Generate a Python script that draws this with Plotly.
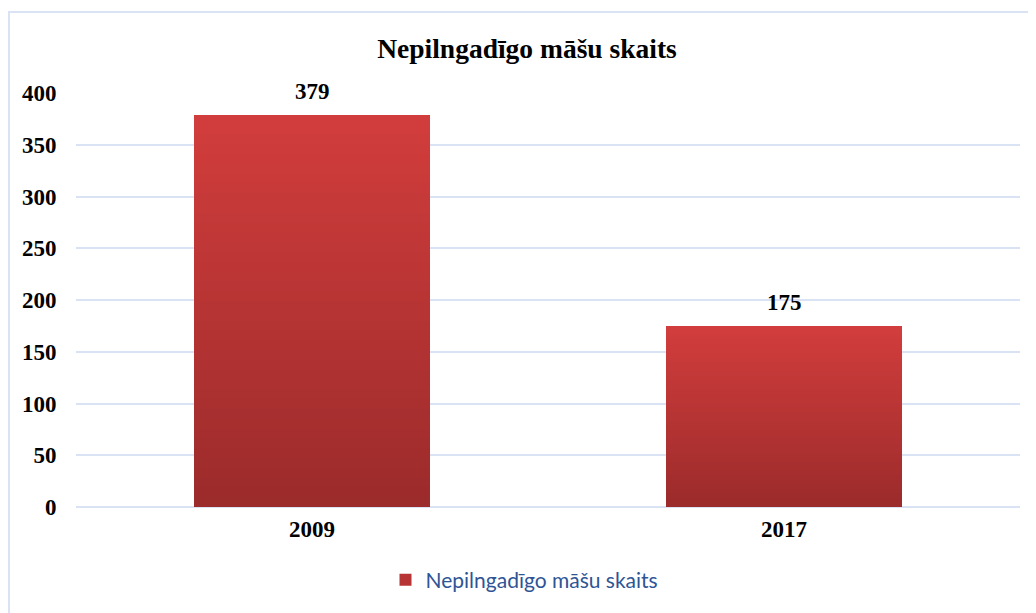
import plotly.graph_objects as go

categories = ["2009", "2017"]
values = [379, 175]
series_name = "Nepilngadīgo māšu skaits"
title_text = "Nepilngadīgo māšu skaits"
y_ticks = [0, 50, 100, 150, 200, 250, 300, 350, 400]

top_rgb = (209, 61, 60)
bottom_rgb = (156, 43, 43)
N = 40

W, H = 1028, 605          # page has an 8px body margin
L, R, T, B = 68, 16, 85, 106
PW, PH = W - L - R, H - T - B

def lerp(a, b, t):
    return tuple(round(a[i] + (b[i] - a[i]) * t) for i in range(3))

fig = go.Figure()
for k in range(N):
    t = k / (N - 1)  # 0 bottom -> 1 top
    c = lerp(bottom_rgb, top_rgb, t)
    fig.add_trace(go.Bar(
        x=categories,
        y=[v / N for v in values],
        name=series_name,
        marker=dict(color=f"rgb{c}", line=dict(width=0)),
        showlegend=(k == N // 2),
        hoverinfo="skip",
    ))

for i, v in enumerate(values):
    fig.add_annotation(x=i, y=v, text=f"<b>{v}</b>", showarrow=False,
                       yanchor="bottom", yshift=9,
                       font=dict(family="Liberation Serif", size=23, color="#000000"))

# outer chart border
fig.add_shape(type="rect", xref="paper", yref="paper",
              x0=(1 - L) / PW, x1=1.2, y0=-0.4, y1=(H - B - 4) / PH,
              line=dict(color="#D9E3F3", width=2), fillcolor="rgba(0,0,0,0)", layer="below")

fig.update_layout(
    width=W, height=H,
    barmode="stack", bargap=0.498,
    paper_bgcolor="white", plot_bgcolor="white",
    margin=dict(l=L, r=R, t=T, b=B),
    title=dict(text=f"<b>{title_text}</b>", x=519 / W, xanchor="center", xref="container",
               y=1 - 40 / H, yanchor="middle", yref="container",
               font=dict(family="Liberation Serif", size=27.5, color="#000000")),
    font=dict(family="Liberation Serif"),
    legend=dict(orientation="h", x=516.5 / W, xanchor="center", xref="container",
                y=1 - 572 / H, yanchor="middle", yref="container",
                font=dict(family="Lato", size=21, color="#2E5496"),
                itemwidth=30),
    showlegend=True,
)
fig.update_xaxes(
    type="category", categoryorder="array", categoryarray=categories,
    range=[-0.5, len(categories) - 0.5],
    showgrid=False, showline=False, zeroline=False,
    ticks="outside", tickcolor="rgba(0,0,0,0)", ticklen=1,
    tickfont=dict(family="Liberation Serif", size=23, color="#000000"),
    tickprefix="<b>", ticksuffix="</b>",
)
fig.update_yaxes(
    range=[0, 400], tickvals=y_ticks, ticktext=[f"<b>{t}</b>" for t in y_ticks],
    showgrid=True, gridcolor="#D9E3F3", gridwidth=2,
    zeroline=True, zerolinecolor="#D9E3F3", zerolinewidth=2,
    showline=False,
    ticks="outside", tickcolor="rgba(0,0,0,0)", ticklen=14,
    tickfont=dict(family="Liberation Serif", size=23, color="#000000"),
)

fig.write_html("out.html")
